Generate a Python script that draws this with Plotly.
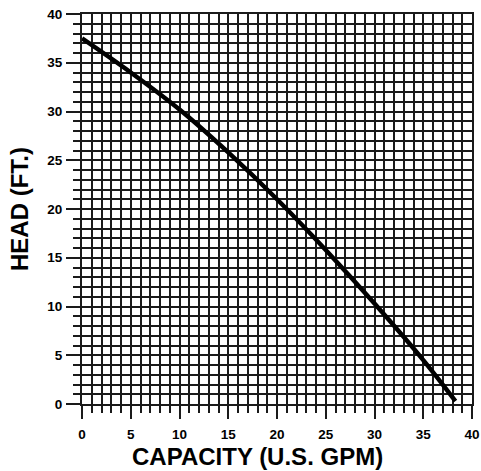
import plotly.graph_objects as go

capacity_gpm = [0, 5, 10, 15, 20, 25, 30, 35, 38.3]
head_ft = [37.5, 34.0, 30.2, 25.8, 21.0, 15.8, 10.3, 4.5, 0.3]
tick_vals = [0, 5, 10, 15, 20, 25, 30, 35, 40]
tick_text = ["<b>%d</b>" % v for v in tick_vals]
x_title = "CAPACITY (U.S. GPM)"
y_title = "HEAD (FT.)"

FONT = "Arial, Liberation Sans, sans-serif"
GRID = "#1a1a1a"

fig = go.Figure()
fig.add_trace(go.Scatter(
    x=capacity_gpm, y=head_ft, mode="lines",
    line=dict(color="black", width=4.5, shape="spline", smoothing=1.0),
    hoverinfo="skip", showlegend=False,
))

axis_common = dict(
    range=[0, 40], tickmode="array", tickvals=tick_vals, ticktext=tick_text,
    showgrid=True, gridcolor=GRID, gridwidth=2,
    zeroline=False, showline=True, mirror=True, linecolor=GRID, linewidth=2,
    ticks="outside", tickcolor=GRID, tickwidth=2,
    minor=dict(dtick=1, ticks="outside", ticklen=7, tickcolor=GRID, tickwidth=2,
               showgrid=True, gridcolor=GRID, gridwidth=2),
    tickfont=dict(family=FONT, size=13.5, color="black"),
    ticklabeloverflow="allow",
    automargin=False, fixedrange=True,
)

fig.update_xaxes(**axis_common, ticklen=13, ticklabelstandoff=4)
fig.update_yaxes(**axis_common, ticklen=14, ticklabelstandoff=1)

title_font = dict(family=FONT, size=24, color="black")
fig.add_annotation(text="<b>%s</b>" % x_title, xref="paper", yref="paper",
                   x=(257 - 82) / 390, y=-(456 - 404) / 390,
                   xanchor="center", yanchor="middle", showarrow=False, font=title_font)
fig.add_annotation(text="<b>%s</b>" % y_title, xref="paper", yref="paper",
                   x=-(82 - 19) / 390, y=0.5, textangle=-90,
                   xanchor="center", yanchor="middle", showarrow=False, font=title_font)

fig.update_layout(
    width=481, height=471,
    margin=dict(l=82, r=9, t=14, b=67),
    plot_bgcolor="white", paper_bgcolor="white",
)

fig.write_html("out.html", config={"displayModeBar": False, "staticPlot": True},
               post_script="document.body.style.margin='0';document.body.style.overflow='hidden';")
